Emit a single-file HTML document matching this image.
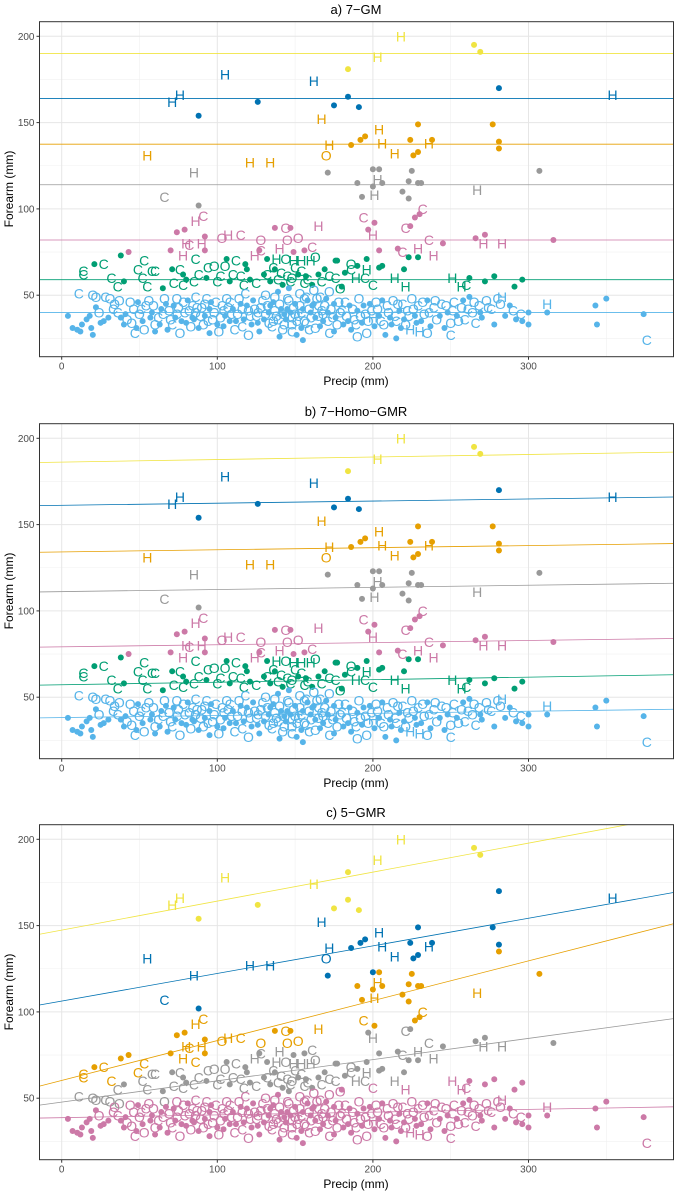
<!DOCTYPE html>
<html><head><meta charset="utf-8"><style>
html,body{margin:0;padding:0;background:#fff;}
svg{display:block;font-family:"Liberation Sans",sans-serif;}
</style></head><body>
<svg id="chart" width="675" height="1192" viewBox="0 0 675 1192"></svg>
<script>
// ---- data ----
const panelTitles = ["a) 7\u2212GM", "b) 7\u2212Homo\u2212GMR", "c) 5\u2212GMR"];
const xTicks = [0, 100, 200, 300];
const yTicks = [50, 100, 150, 200];
const groupNames = ["yellow","blue","orange","gray","pink","green","lightblue"];
const groupColors = ["#F0E442","#0072B2","#E69F00","#999999","#CC79A7","#009E73","#56B4E9"];
const linesA = [190, 164, 137.5, 114, 82, 59, 40];
const linesBStart = [186, 161, 134, 111, 79, 57, 38];
const linesBEnd = [192, 166, 139, 116, 84, 63, 43];
const linesCNames = ["yellow","blue","orange","gray","pink"];
const linesCStart = [145, 104, 57, 46, 38.5];
const linesCSlope = [0.168, 0.16, 0.231, 0.123, 0.016];

const yellowPts = [[218,200,'H'],[265,195,'d'],[269,191,'d'],[203,188,'H'],[184,181,'d']];
const bluePts = [[105,178,'H'],[162,174,'H'],[76,166,'H'],[71,162,'H'],[88,154,'d'],[126,162,'d'],[175,160,'d'],[184,165,'d'],[191,159,'d'],[281,170,'d'],[354,166,'H']];
const orangePts = [[55,131,'H'],[121,127,'H'],[134,127,'H'],[167,152,'H'],[172,137,'H'],[170,131,'O'],[186,137,'d'],[192,140,'d'],[195,142,'d'],[204,146,'H'],[206,138,'H'],[214,132,'H'],[224,140,'d'],[229,149,'d'],[226,131,'d'],[229,133,'d'],[236,138,'H'],[238,140,'d'],[277,149,'d'],[281,139,'d'],[281,135,'d']];
const grayPts = [[85,121,'H'],[66,107,'C'],[88,102,'d'],[171,121,'d'],[200,123,'d'],[204,123,'d'],[203,117,'H'],[190,115,'d'],[200,113,'d'],[206,115,'d'],[225,122,'d'],[223,116,'d'],[229,115,'d'],[231,115,'d'],[201,108,'H'],[193,107,'d'],[219,110,'d'],[223,106,'d'],[267,111,'H'],[307,122,'d']];
const pinkPts = [[43,75,'d'],[70,76,'d'],[74,86.5,'d'],[79,88,'d'],[86,93,'H'],[91,96,'C'],[78,73,'H'],[80,80,'H'],[82,79,'C'],[90,80,'H'],[92,84,'d'],[92,76,'d'],[103,83,'O'],[107,85,'H'],[115,85,'C'],[128,82,'O'],[128,76,'C'],[124,73,'H'],[127,76,'d'],[137,89,'d'],[144,89,'O'],[147,89,'d'],[145,82,'O'],[152,83,'O'],[140,77,'H'],[149,75,'d'],[156,76,'d'],[161,78,'C'],[165,90,'H'],[194,95,'C'],[201,92,'d'],[197,88,'d'],[200,85,'H'],[204,76,'d'],[216,77,'d'],[219,75,'C'],[229,77,'H'],[239,73,'H'],[221,89,'C'],[224,90,'d'],[227,95,'d'],[230,97,'d'],[232,100,'C'],[236,82,'C'],[245,80,'d'],[266,83,'d'],[272,85,'d'],[271,80,'H'],[283,80,'H'],[316,82,'d']];
const greenPts = [[14,62,'C'],[14,64,'C'],[21,68,'d'],[27,68,'C'],[38,73,'d'],[32,60,'C'],[36,55,'C'],[40,58,'d'],[53,70,'C'],[49,65,'C'],[58,64,'C'],[60,64,'C'],[52,60,'C'],[55,55,'C'],[71,65,'d'],[76,65,'C'],[78,62,'d'],[72,57,'C'],[65,54,'d'],[78,56,'C'],[80,59,'d'],[86,71,'C'],[88,62,'C'],[85,58,'C'],[94,66,'C'],[98,67,'O'],[105,67,'O'],[106,71,'d'],[112,70,'C'],[118,68,'d'],[119,65,'d'],[102,61,'C'],[108,58,'d'],[110,62,'C'],[115,61,'C'],[121,59,'d'],[130,62,'d'],[132,71,'d'],[138,71,'H'],[136,66,'C'],[137,65,'d'],[132,62,'C'],[141,63,'C'],[145,61,'C'],[142,56,'d'],[144,71,'O'],[149,70,'H'],[154,70,'H'],[163,72,'O'],[160,70,'H'],[150,66,'C'],[154,64,'C'],[152,62,'d'],[157,61,'d'],[147,58,'C'],[156,57,'C'],[161,56,'d'],[176,70,'d'],[169,65,'d'],[172,61,'C'],[177,70,'d'],[186,68,'O'],[186,65,'C'],[190,67,'d'],[196,71,'d'],[196,65,'H'],[204,66,'d'],[206,67,'d'],[220,65,'d'],[223,72,'d'],[229,72,'d'],[214,60,'H'],[221,55,'H'],[200,56,'C'],[176,60,'C'],[189,60,'H'],[195,60,'C'],[182,63,'d'],[180,55,'d'],[179,54,'O'],[251,60,'H'],[257,55,'H'],[260,56,'C'],[262,60,'d'],[272,58,'d'],[278,61,'d'],[291,55,'d'],[296,59,'d'],[125,57,'C'],[134,58,'d'],[139,59,'C'],[148,60,'O'],[158,59,'C'],[165,62,'d'],[167,58,'C'],[100,58,'C'],[93,60,'d'],[117,56,'C']];
const lightbluePts = [[4,38,'d'],[7,31,'d'],[10,30,'d'],[12,29,'d'],[13,33,'d'],[16,36,'d'],[18,38,'d'],[19,31,'d'],[20,27,'d'],[22,43,'d'],[25,34,'d'],[27,35,'d'],[11,51,'C'],[20,50,'O'],[22,49,'O'],[28,49,'C'],[31,48,'O'],[34,45,'O'],[36,40,'C'],[38,37,'d'],[40,33,'d'],[42,36,'O'],[44,46,'O'],[46,42,'C'],[47,28,'C'],[48,31,'d'],[50,39,'O'],[52,35,'d'],[54,44,'C'],[56,47,'O'],[58,40,'d'],[60,33,'O'],[62,37,'C'],[64,42,'d'],[66,48,'O'],[68,30,'d'],[70,36,'O'],[72,44,'d'],[74,39,'C'],[76,28,'O'],[78,46,'C'],[80,34,'d'],[82,41,'O'],[84,37,'d'],[86,49,'C'],[88,31,'d'],[90,43,'O'],[92,38,'d'],[94,35,'C'],[96,46,'d'],[98,40,'O'],[100,33,'d'],[101,29,'O'],[103,44,'C'],[105,38,'d'],[106,48,'O'],[108,35,'d'],[110,42,'d'],[111,30,'C'],[113,39,'O'],[115,45,'d'],[117,36,'d'],[118,51,'C'],[120,41,'O'],[122,33,'d'],[123,47,'d'],[125,38,'C'],[127,29,'d'],[128,43,'O'],[130,36,'d'],[131,50,'O'],[133,40,'d'],[135,32,'C'],[136,46,'d'],[138,38,'O'],[139,52,'d'],[141,42,'d'],[142,30,'O'],[144,36,'d'],[145,48,'C'],[147,40,'d'],[148,33,'O'],[150,45,'d'],[151,27,'d'],[152,38,'C'],[153,51,'O'],[155,42,'d'],[156,35,'O'],[158,47,'d'],[159,30,'C'],[160,40,'d'],[162,53,'O'],[163,37,'d'],[165,44,'C'],[166,32,'d'],[168,39,'O'],[170,48,'d'],[171,35,'C'],[173,42,'O'],[175,29,'d'],[176,37,'d'],[178,46,'O'],[180,41,'C'],[181,33,'d'],[183,38,'O'],[185,44,'d'],[186,30,'d'],[188,36,'C'],[190,41,'d'],[191,48,'O'],[193,34,'d'],[195,39,'C'],[196,28,'O'],[198,45,'d'],[200,37,'H'],[201,32,'d'],[203,42,'O'],[205,35,'C'],[206,47,'d'],[208,27,'d'],[210,40,'O'],[212,33,'d'],[214,38,'C'],[216,45,'O'],[218,31,'d'],[220,36,'d'],[222,41,'C'],[224,30,'H'],[225,48,'O'],[227,38,'d'],[229,44,'C'],[231,35,'d'],[233,39,'O'],[235,47,'d'],[237,32,'d'],[239,43,'C'],[241,36,'O'],[244,45,'C'],[246,31,'d'],[248,40,'d'],[250,34,'O'],[252,46,'C'],[254,38,'d'],[257,43,'O'],[259,36,'C'],[262,49,'d'],[264,40,'O'],[266,34,'C'],[268,44,'C'],[270,37,'d'],[273,47,'O'],[276,42,'C'],[278,33,'d'],[280,48,'C'],[283,49,'H'],[285,38,'d'],[290,41,'C'],[292,36,'d'],[295,39,'C'],[300,40,'d'],[300,33,'d'],[312,45,'H'],[312,40,'d'],[343,44,'d'],[344,33,'d'],[350,48,'d'],[374,39,'d'],[376,24,'C'],[155,24,'d'],[140,26,'d'],[172,28,'C'],[120,27,'O'],[95,28,'d'],[60,29,'d'],[235,28,'O'],[250,27,'C'],[190,26,'O'],[215,25,'d'],[230,29,'H'],[132,44,'C'],[137,41,'O'],[143,39,'d'],[149,43,'O'],[154,31,'d'],[157,49,'C'],[161,44,'d'],[164,48,'O'],[167,41,'C'],[146,54,'d'],[136,35,'O'],[126,40,'C'],[116,42,'O'],[104,41,'C'],[92,45,'O'],[84,44,'C'],[74,48,'O'],[108,46,'C'],[86,40,'O'],[148,37,'C'],
[24,40,'O'],[30,37,'d'],[33,42,'C'],[37,47,'O'],[41,39,'d'],[45,34,'O'],[49,46,'d'],[51,42,'C'],[53,30,'O'],[57,37,'d'],[59,44,'O'],[63,33,'d'],[65,39,'C'],[67,45,'d'],[69,41,'O'],[71,33,'C'],[73,37,'d'],[75,43,'O'],[77,35,'d'],[79,40,'C'],[81,47,'d'],[83,32,'O'],[85,36,'d'],[87,43,'O'],[89,38,'C'],[91,33,'O'],[93,48,'C'],[95,42,'d'],[97,36,'O'],[99,46,'C'],[102,37,'O'],[104,32,'d'],[107,43,'O'],[109,39,'C'],[112,35,'d'],[114,48,'O'],[116,32,'C'],[119,44,'d'],[121,38,'C'],[124,42,'O'],[126,34,'d'],[129,47,'C'],[131,39,'O'],[133,34,'C'],[134,44,'d'],[137,49,'O'],[139,36,'C'],[140,45,'O'],[142,39,'C'],[143,33,'O'],[145,42,'d'],[146,47,'O'],[148,29,'C'],[150,39,'O'],[151,35,'C'],[153,44,'O'],[154,40,'C'],[156,48,'O'],[157,34,'C'],[159,42,'O'],[160,37,'C'],[162,45,'d'],[163,31,'O'],[165,38,'O'],[166,49,'C'],[168,35,'d'],[169,44,'O'],[171,40,'d'],[172,52,'O'],[174,37,'C'],[175,45,'d'],[177,33,'O'],[179,40,'O'],[182,46,'C'],[184,35,'d'],[187,42,'O'],[189,33,'C'],[192,38,'O'],[194,44,'d'],[197,35,'O'],[199,41,'C'],[202,46,'O'],[204,38,'d'],[207,33,'O'],[209,44,'C'],[211,37,'d'],[213,47,'O'],[215,35,'C'],[217,41,'d'],[219,45,'C'],[221,33,'O'],[223,38,'C'],[226,42,'O'],[228,34,'d'],[232,46,'O'],[236,40,'C'],[240,47,'O'],[243,38,'d'],[247,44,'O'],[251,41,'C'],[255,35,'O'],[258,47,'d'],[261,42,'C'],[265,46,'O'],[269,40,'d'],[274,43,'C'],[282,45,'O'],[288,44,'d'],[296,35,'d']];
const allGroups = [yellowPts, bluePts, orangePts, grayPts, pinkPts, greenPts, lightbluePts];

// ---- layout ----
const NS = "http://www.w3.org/2000/svg";
const svg = document.getElementById("chart");
const L = 39.5, R = 673.5, T = 21.7, B = 356.7;
const panelOffsets = [0, 402, 803];
const X0 = -14.3, X1 = 393;
function sx(v){ return 61.7 + v * 1.556; }
function sy(v, off){ return off + 36.3 + (200 - v) * 1.726; }
function mk(tag, attrs, parent){
  const e = document.createElementNS(NS, tag);
  for (const k in attrs) e.setAttribute(k, attrs[k]);
  (parent || svg).appendChild(e);
  return e;
}

panelOffsets.forEach((off, p) => {
  const g = mk("g", {});
  
  
  const cp = mk("clipPath", {id: "clip" + p}, g);
  mk("rect", {x: L, y: T + off, width: R - L, height: B - T}, cp);
  const bg = mk("rect", {x: L, y: T + off, width: R - L, height: B - T, fill: "#fff"}, g);
  
  
  [25,75,125,175].forEach(v => mk("line", {x1: L, x2: R, y1: sy(v, off), y2: sy(v, off), stroke: "#f0f0f0", "stroke-width": 0.6}, g));
  [50,150,250,350].forEach(v => mk("line", {x1: sx(v), x2: sx(v), y1: T + off, y2: B + off, stroke: "#f0f0f0", "stroke-width": 0.6}, g));
  yTicks.forEach(v => mk("line", {x1: L, x2: R, y1: sy(v, off), y2: sy(v, off), stroke: "#e6e6e6", "stroke-width": 1}, g));
  xTicks.forEach(v => mk("line", {x1: sx(v), x2: sx(v), y1: T + off, y2: B + off, stroke: "#e6e6e6", "stroke-width": 1}, g));
  const pg = mk("g", {"clip-path": "url(#clip" + p + ")"}, g);
  allGroups.forEach((pts, gi) => {
    pts.forEach(pt => {
      let ci = gi;
      if (p === 2) {
        let best = 1e9;
        linesCStart.forEach((s, li) => {
          const d = Math.abs(pt[1] - (s + linesCSlope[li] * (pt[0] - X0)));
          if (d < best) { best = d; ci = groupNames.indexOf(linesCNames[li]); }
        });
      }
      const col = groupColors[ci];
      let el;
      if (pt[2] === 'd') {
        el = mk("circle", {cx: sx(pt[0]), cy: sy(pt[1], off), r: 3, fill: col}, pg);
      } else {
        el = mk("text", {x: sx(pt[0]), y: sy(pt[1], off) + 5, "text-anchor": "middle", "font-size": 14, fill: col}, pg);
        el.textContent = pt[2];
      }
      
      
    });
  });
  if (p === 0) {
    linesA.forEach((v, i) => {
      const ln = mk("line", {x1: L, x2: R, y1: sy(v, off), y2: sy(v, off), stroke: groupColors[i], "stroke-width": 0.8}, pg);
      
      
    });
  } else if (p === 1) {
    linesBStart.forEach((v, i) => {
      const ln = mk("line", {x1: L, x2: R, y1: sy(v, off), y2: sy(linesBEnd[i], off), stroke: groupColors[i], "stroke-width": 0.8}, pg);
      
      
    });
  } else {
    linesCStart.forEach((v, i) => {
      const ci = groupNames.indexOf(linesCNames[i]);
      const ln = mk("line", {x1: L, x2: R, y1: sy(v, off), y2: sy(v + linesCSlope[i] * (X1 - X0), off), stroke: groupColors[ci], "stroke-width": 0.8}, pg);
      
      
    });
  }
  const fr = mk("rect", {x: L, y: T + off, width: R - L, height: B - T, fill: "none", stroke: "#333", "stroke-width": 1}, g);
  
  
  xTicks.forEach(v => {
    mk("line", {x1: sx(v), x2: sx(v), y1: B + off, y2: B + off + 3, stroke: "#333"}, g);
    const t = mk("text", {x: sx(v), y: B + off + 13, "text-anchor": "middle", "font-size": 10, fill: "#4d4d4d"}, g);
    t.textContent = v;
    
    
  });
  yTicks.forEach(v => {
    mk("line", {x1: L - 3, x2: L, y1: sy(v, off), y2: sy(v, off), stroke: "#333"}, g);
    const t = mk("text", {x: L - 5, y: sy(v, off) + 3.5, "text-anchor": "end", "font-size": 10, fill: "#4d4d4d"}, g);
    t.textContent = v;
    
    
  });
  const tt = mk("text", {x: 356, y: off + 14, "text-anchor": "middle", "font-size": 13, fill: "#000"}, g);
  tt.textContent = panelTitles[p];
  
  
  const xt = mk("text", {x: 356, y: off + 385, "text-anchor": "middle", "font-size": 12, fill: "#000"}, g);
  xt.textContent = "Precip (mm)";
  
  
  const yt = mk("text", {x: 0, y: 0, transform: "translate(13," + (off + 189) + ") rotate(-90)", "text-anchor": "middle", "font-size": 12, fill: "#000"}, g);
  yt.textContent = "Forearm (mm)";
  
  
});
</script>
</body></html>
